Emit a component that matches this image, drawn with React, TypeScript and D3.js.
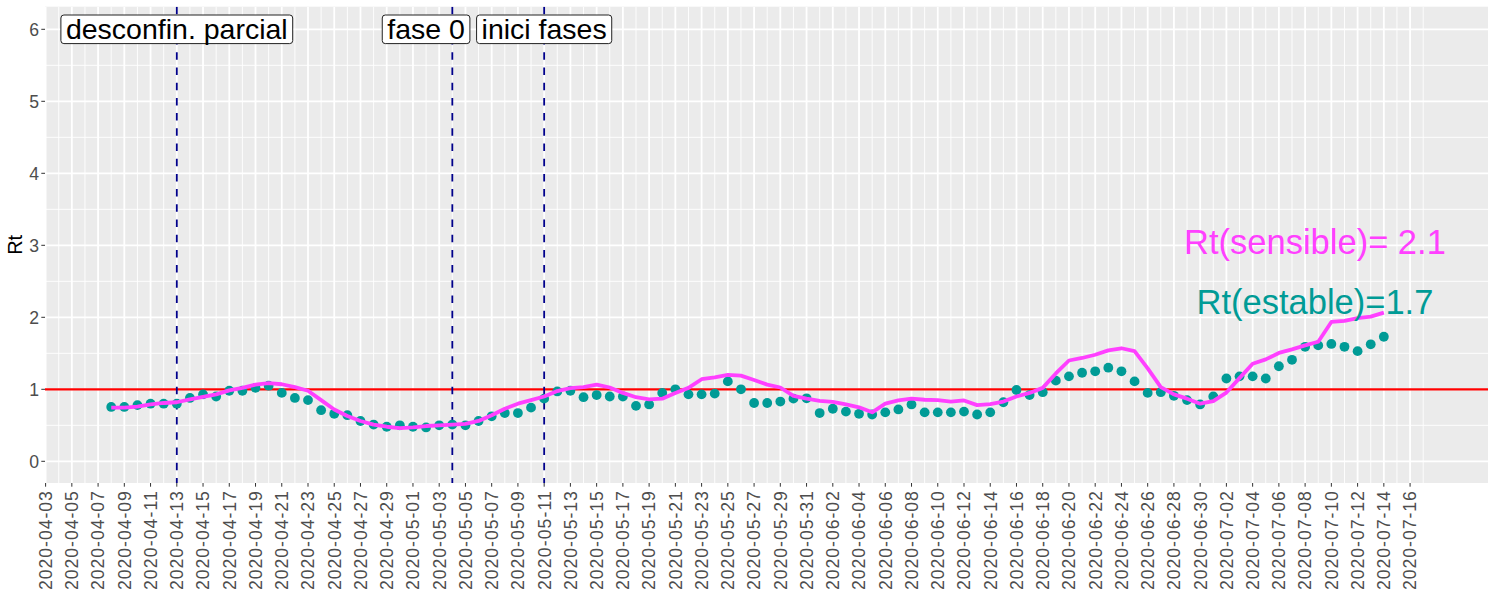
import React, { useMemo } from "react";
import * as d3 from "d3";

// ---------- data ----------
const TICK_LABELS = [
  "2020-04-03","2020-04-05","2020-04-07","2020-04-09","2020-04-11","2020-04-13","2020-04-15","2020-04-17",
  "2020-04-19","2020-04-21","2020-04-23","2020-04-25","2020-04-27","2020-04-29","2020-05-01","2020-05-03",
  "2020-05-05","2020-05-07","2020-05-09","2020-05-11","2020-05-13","2020-05-15","2020-05-17","2020-05-19",
  "2020-05-21","2020-05-23","2020-05-25","2020-05-27","2020-05-29","2020-05-31","2020-06-02","2020-06-04",
  "2020-06-06","2020-06-08","2020-06-10","2020-06-12","2020-06-14","2020-06-16","2020-06-18","2020-06-20",
  "2020-06-22","2020-06-24","2020-06-26","2020-06-28","2020-06-30","2020-07-02","2020-07-04","2020-07-06",
  "2020-07-08","2020-07-10","2020-07-12","2020-07-14","2020-07-16",
];

const DATES_APR = ["2020-04-08","2020-04-09","2020-04-10","2020-04-11","2020-04-12","2020-04-13","2020-04-14","2020-04-15","2020-04-16","2020-04-17","2020-04-18","2020-04-19","2020-04-20","2020-04-21","2020-04-22","2020-04-23","2020-04-24","2020-04-25","2020-04-26","2020-04-27","2020-04-28","2020-04-29","2020-04-30"];
const DATES_MAY = ["2020-05-01","2020-05-02","2020-05-03","2020-05-04","2020-05-05","2020-05-06","2020-05-07","2020-05-08","2020-05-09","2020-05-10","2020-05-11","2020-05-12","2020-05-13","2020-05-14","2020-05-15","2020-05-16","2020-05-17","2020-05-18","2020-05-19","2020-05-20","2020-05-21","2020-05-22","2020-05-23","2020-05-24","2020-05-25","2020-05-26","2020-05-27","2020-05-28","2020-05-29","2020-05-30","2020-05-31"];
const DATES_JUN = ["2020-06-01","2020-06-02","2020-06-03","2020-06-04","2020-06-05","2020-06-06","2020-06-07","2020-06-08","2020-06-09","2020-06-10","2020-06-11","2020-06-12","2020-06-13","2020-06-14","2020-06-15","2020-06-16","2020-06-17","2020-06-18","2020-06-19","2020-06-20","2020-06-21","2020-06-22","2020-06-23","2020-06-24","2020-06-25","2020-06-26","2020-06-27","2020-06-28","2020-06-29","2020-06-30"];
const DATES_JUL = ["2020-07-01","2020-07-02","2020-07-03","2020-07-04","2020-07-05","2020-07-06","2020-07-07","2020-07-08","2020-07-09","2020-07-10","2020-07-11","2020-07-12","2020-07-13","2020-07-14"];

// Rt "estable" (points)
const STABLE_APR = [0.755,0.755,0.78,0.80,0.80,0.80,0.88,0.93,0.90,0.98,0.98,1.02,1.05,0.95,0.88,0.85,0.71,0.66,0.64,0.56,0.51,0.48,0.50];
const STABLE_MAY = [0.48,0.47,0.50,0.51,0.50,0.56,0.625,0.67,0.67,0.745,0.87,0.97,0.98,0.89,0.92,0.90,0.90,0.77,0.79,0.95,1.00,0.93,0.93,0.94,1.11,1.00,0.81,0.81,0.83,0.87,0.875];
const STABLE_JUN = [0.67,0.73,0.69,0.66,0.65,0.68,0.72,0.79,0.68,0.68,0.68,0.69,0.65,0.68,0.82,0.99,0.92,0.96,1.12,1.18,1.23,1.25,1.30,1.25,1.11,0.95,0.96,0.91,0.85,0.79];
const STABLE_JUL = [0.90,1.15,1.18,1.18,1.15,1.32,1.41,1.59,1.61,1.63,1.59,1.53,1.625,1.73];

// Rt "sensible" (line)
const SENS_APR = [0.745,0.745,0.76,0.79,0.81,0.82,0.86,0.895,0.93,0.985,1.02,1.065,1.085,1.07,1.03,0.98,0.85,0.72,0.63,0.56,0.51,0.48,0.46];
const SENS_MAY = [0.47,0.49,0.50,0.51,0.52,0.56,0.64,0.73,0.80,0.85,0.90,0.975,1.015,1.03,1.065,1.025,0.95,0.89,0.86,0.87,0.95,1.02,1.14,1.165,1.20,1.19,1.13,1.065,1.025,0.91,0.87];
const SENS_JUN = [0.84,0.825,0.79,0.75,0.68,0.80,0.845,0.87,0.855,0.85,0.83,0.845,0.78,0.795,0.83,0.90,0.95,1.02,1.22,1.40,1.435,1.48,1.54,1.57,1.53,1.29,1.03,0.93,0.87,0.80];
const SENS_JUL = [0.835,0.955,1.155,1.355,1.415,1.505,1.555,1.61,1.66,1.935,1.95,1.99,2.01,2.065];

const Y_TICKS = [0, 1, 2, 3, 4, 5, 6];
const Y_MINOR = [0.5, 1.5, 2.5, 3.5, 4.5, 5.5];

const EVENT_DATES = ["2020-04-13", "2020-05-04", "2020-05-11"];
const EVENT_LABELS = ["desconfin. parcial", "fase 0", "inici fases"];
const EVENT_LABEL_DATES = ["2020-04-13", "2020-05-02", "2020-05-11"];

const SENS_TEXT = "Rt(sensible)= 2.1";
const STABLE_TEXT = "Rt(estable)=1.7";

// ---------- styling ----------
const W = 1497;
const H = 598;
const FONT = "'Liberation Sans', Arial, Helvetica, sans-serif";
const PANEL = { left: 45, right: 1488, top: 6.7, bottom: 483 };
const TEAL = "#009B96";
const MAGENTA = "#FF40FF";

const parse = (s: string) => {
  const [yy, mm, dd] = s.split("-").map(Number);
  return new Date(Date.UTC(yy, mm - 1, dd));
};

function measure(text: string, size: number): number {
  const c = document.createElement("canvas");
  const ctx = c.getContext("2d");
  if (!ctx) return text.length * size * 0.5;
  ctx.font = `${size}px ${FONT}`;
  return ctx.measureText(text).width;
}

export default function App() {
  const x = d3
    .scaleUtc()
    .domain([parse("2020-04-03"), parse("2020-07-16")])
    .range([45.6, 45.6 + 104 * 13.12]);
  const y = d3.scaleLinear().domain([0, 6]).range([461.3, 29.3]);

  const dates = [...DATES_APR, ...DATES_MAY, ...DATES_JUN, ...DATES_JUL].map(parse);
  const stable = [...STABLE_APR, ...STABLE_MAY, ...STABLE_JUN, ...STABLE_JUL];
  const sens = [...SENS_APR, ...SENS_MAY, ...SENS_JUN, ...SENS_JUL];

  const tickDates = TICK_LABELS.map(parse);
  const minorX: number[] = [];
  for (let i = 0; i < tickDates.length - 1; i++) {
    minorX.push((x(tickDates[i]) + x(tickDates[i + 1])) / 2);
  }
  const step = x(tickDates[1]) - x(tickDates[0]);
  const lastX = x(tickDates[tickDates.length - 1]);
  minorX.push(lastX + step / 2);

  const linePath = d3
    .line<number>()
    .x((_, i) => x(dates[i]))
    .y((v) => y(v))(sens) as string;

  const labelFs = 28.5;
  const labelWidths = useMemo(() => EVENT_LABELS.map((t) => measure(t, labelFs)), []);

  const xLabFs = 17.6;
  const yLabFs = 17.6;
  const annX = x(parse("2020-07-08")) + 0.75 * 13.12;

  return (
    <svg
      width={W}
      height={H}
      style={{ position: "absolute", left: 0, top: 0, display: "block", background: "#fff" }}
      fontFamily={FONT}
    >
      <rect x={0} y={0} width={W} height={H} fill="#fff" />
      <defs>
        <clipPath id="panel">
          <rect x={PANEL.left} y={PANEL.top} width={PANEL.right - PANEL.left} height={PANEL.bottom - PANEL.top} />
        </clipPath>
      </defs>
      <rect
        x={PANEL.left}
        y={PANEL.top}
        width={PANEL.right - PANEL.left}
        height={PANEL.bottom - PANEL.top}
        fill="#EBEBEB"
      />
      <g clipPath="url(#panel)">
        {Y_MINOR.map((v) => (
          <line key={"ym" + v} x1={PANEL.left} x2={PANEL.right} y1={y(v)} y2={y(v)} stroke="#fff" strokeWidth={0.9} />
        ))}
        {minorX.map((px, i) => (
          <line key={"xm" + i} x1={px} x2={px} y1={PANEL.top} y2={PANEL.bottom} stroke="#fff" strokeWidth={0.9} />
        ))}
        {Y_TICKS.map((v) => (
          <line key={"yM" + v} x1={PANEL.left} x2={PANEL.right} y1={y(v)} y2={y(v)} stroke="#fff" strokeWidth={1.8} />
        ))}
        {tickDates.map((d, i) => (
          <line key={"xM" + i} x1={x(d)} x2={x(d)} y1={PANEL.top} y2={PANEL.bottom} stroke="#fff" strokeWidth={1.8} />
        ))}

        <line x1={PANEL.left} x2={PANEL.right} y1={y(1)} y2={y(1)} stroke="#FF0000" strokeWidth={2.2} />

        {EVENT_DATES.map((s) => (
          <line
            key={s}
            x1={x(parse(s))}
            x2={x(parse(s))}
            y1={PANEL.top}
            y2={PANEL.bottom}
            stroke="#00008B"
            strokeWidth={1.8}
            strokeDasharray="7.5 7.7"
          />
        ))}

        {stable.map((v, i) => (
          <circle key={"p" + i} cx={x(dates[i])} cy={y(v)} r={4.9} fill={TEAL} />
        ))}

        <path d={linePath} fill="none" stroke={MAGENTA} strokeWidth={3.8} strokeLinejoin="round" />

        <text x={annX} y={y(3.05)} dy="0.35em" textAnchor="middle" fontSize={34.5} fill={MAGENTA}>
          {SENS_TEXT}
        </text>
        <text x={annX} y={y(2.22)} dy="0.35em" textAnchor="middle" fontSize={34.5} fill={TEAL}>
          {STABLE_TEXT}
        </text>

        {EVENT_LABELS.map((t, i) => {
          const cx = x(parse(EVENT_LABEL_DATES[i]));
          const cy = y(6);
          const w = labelWidths[i] + 10;
          const h = 28.6;
          return (
            <g key={t}>
              <rect
                x={cx - w / 2}
                y={cy - h / 2}
                width={w}
                height={h}
                rx={3}
                ry={3}
                fill="#fff"
                stroke="#222"
                strokeWidth={1}
              />
              <text x={cx} y={cy + 0.33 * labelFs} textAnchor="middle" fontSize={labelFs} fill="#000">
                {t}
              </text>
            </g>
          );
        })}
      </g>

      {Y_TICKS.map((v) => (
        <g key={"yt" + v}>
          <line x1={PANEL.left - 3.7} x2={PANEL.left} y1={y(v)} y2={y(v)} stroke="#333" strokeWidth={1} />
          <text x={PANEL.left - 6} y={y(v)} dy="0.36em" textAnchor="end" fontSize={yLabFs} fill="#4D4D4D">
            {v}
          </text>
        </g>
      ))}
      <text
        transform={`translate(22, ${(PANEL.top + PANEL.bottom) / 2}) rotate(-90)`}
        textAnchor="middle"
        fontSize={20}
        fill="#000"
      >
        Rt
      </text>

      {tickDates.map((d, i) => {
        const px = x(d);
        const ty = PANEL.bottom + 3.7 + 4.4;
        return (
          <g key={"xt" + i}>
            <line x1={px} x2={px} y1={PANEL.bottom} y2={PANEL.bottom + 3.7} stroke="#333" strokeWidth={1} />
            <text
              transform={`translate(${px}, ${ty}) rotate(-90)`}
              dy="0.36em"
              textAnchor="end"
              fontSize={xLabFs}
              fill="#4D4D4D"
              textLength={99}
              lengthAdjust="spacing"
            >
              {TICK_LABELS[i]}
            </text>
          </g>
        );
      })}
    </svg>
  );
}
